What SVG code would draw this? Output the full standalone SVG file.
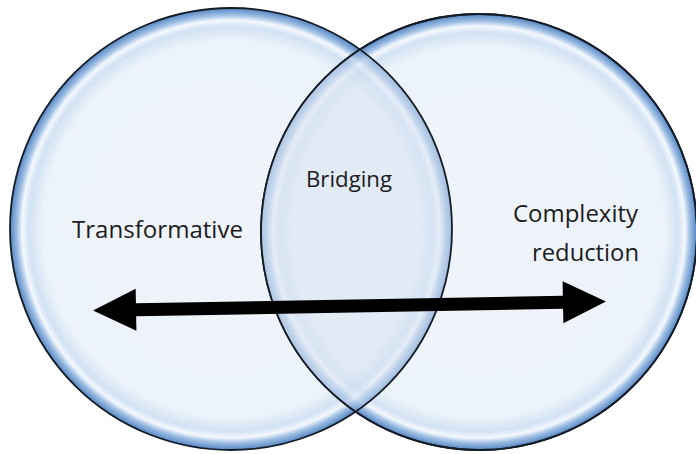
<svg xmlns="http://www.w3.org/2000/svg" width="696" height="454" viewBox="0 0 696 454">
  <style>
    .lbl { font-family: "Open Sans", "Liberation Sans", sans-serif; font-size: 24px; fill: #1c1c1c; }
    .rim { fill: none; stroke: #141c26; stroke-width: 1.8; }
  </style>
  <defs>
    <radialGradient id="bubble" cx="0.5" cy="0.5" r="0.5">
      <stop offset="0" stop-color="#eff4fa"/>
      <stop offset="0.85" stop-color="#edf3fa"/>
      <stop offset="0.915" stop-color="#d2e2f3"/>
      <stop offset="0.945" stop-color="#f3f8fd"/>
      <stop offset="0.968" stop-color="#9fbfe4"/>
      <stop offset="1" stop-color="#5585c2"/>
    </radialGradient>
    <clipPath id="clipRight">
      <circle cx="479" cy="232" r="218"/>
    </clipPath>
  </defs>
  <rect width="696" height="454" fill="#ffffff"/>

  <g id="node-left">
    <circle cx="231" cy="229" r="221" fill="url(#bubble)"/>
    <circle class="rim" cx="231" cy="229" r="221"/>
    <text class="lbl" x="72" y="238" textLength="171" lengthAdjust="spacingAndGlyphs">Transformative</text>
  </g>

  <g id="node-right">
    <circle cx="479" cy="232" r="218" fill="url(#bubble)"/>
    <circle class="rim" cx="479" cy="232" r="218"/>
    <text class="lbl" x="513" y="222" textLength="125" lengthAdjust="spacingAndGlyphs">Complexity</text>
    <text class="lbl" x="532" y="261" textLength="107" lengthAdjust="spacingAndGlyphs">reduction</text>
  </g>

  <g id="node-overlap">
    <g clip-path="url(#clipRight)">
      <circle cx="231" cy="229" r="221" fill="url(#bubble)" opacity="0.55"/>
      <circle cx="231" cy="229" r="221" fill="#b9cfe6" opacity="0.22"/>
      <circle class="rim" cx="231" cy="229" r="221"/>
    </g>
    <circle class="rim" cx="479" cy="232" r="218"/>
    <text class="lbl" x="306" y="187" style="font-size:22px" textLength="86" lengthAdjust="spacingAndGlyphs">Bridging</text>
  </g>

  <g id="connectors">
    <polygon fill="#000000" transform="rotate(-1.0 349.5 306)"
      points="93,306 136,285 136,299.5 563,299.5 563,285 606,306 563,327 563,312.5 136,312.5 136,327"/>
  </g>
</svg>
